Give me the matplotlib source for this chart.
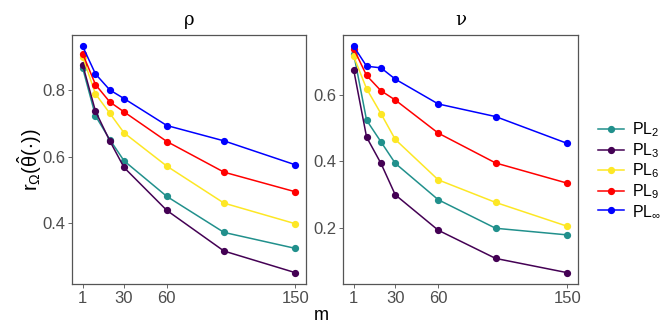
import numpy as np
import matplotlib
matplotlib.use("Agg")
import matplotlib.pyplot as plt

# Werte
m = [1, 10, 20, 30, 60, 100, 150]
series = ["PL2", "PL3", "PL6", "PL9", "PLinf"]
labels = [r"PL$_2$", r"PL$_3$", r"PL$_6$", r"PL$_9$", r"PL$_\infty$"]
colors = ["#21908C", "#440154", "#FDE725", "#FF0000", "#0000FF"]

rho_pl2 = [0.866, 0.722, 0.651, 0.587, 0.480, 0.372, 0.324]
rho_pl3 = [0.876, 0.736, 0.647, 0.567, 0.438, 0.316, 0.251]
rho_pl6 = [0.900, 0.788, 0.730, 0.671, 0.571, 0.460, 0.398]
rho_pl9 = [0.909, 0.816, 0.764, 0.734, 0.645, 0.553, 0.494]
rho_plinf = [0.931, 0.848, 0.800, 0.774, 0.693, 0.647, 0.575]

nu_pl2 = [0.725, 0.524, 0.459, 0.394, 0.284, 0.198, 0.178]
nu_pl3 = [0.676, 0.473, 0.394, 0.299, 0.192, 0.107, 0.064]
nu_pl6 = [0.717, 0.619, 0.544, 0.466, 0.344, 0.276, 0.204]
nu_pl9 = [0.740, 0.659, 0.613, 0.585, 0.485, 0.395, 0.334]
nu_plinf = [0.747, 0.687, 0.682, 0.648, 0.573, 0.535, 0.454]

panels = [
    ("ρ", [rho_pl2, rho_pl3, rho_pl6, rho_pl9, rho_plinf], [0.4, 0.6, 0.8]),
    ("ν", [nu_pl2, nu_pl3, nu_pl6, nu_pl9, nu_plinf], [0.2, 0.4, 0.6]),
]

plt.rcParams["font.family"] = ["Liberation Sans", "DejaVu Sans"]
plt.rcParams["mathtext.fontset"] = "dejavusans"
plt.rcParams["mathtext.default"] = "regular"

W, H = 664, 332
fig = plt.figure(figsize=(W / 100, H / 100), dpi=100)
boxes = [(72, 35, 306, 284), (343, 35, 578, 284)]

handles = []
for (title, data, yticks), (x0, y0, x1, y1) in zip(panels, boxes):
    ax = fig.add_axes([x0 / W, (H - y1) / H, (x1 - x0) / W, (y1 - y0) / H])
    handles = []
    for vals, col, lab in zip(data, colors, labels):
        h, = ax.plot(m, vals, color=col, lw=1.1, marker="o", ms=4.2, label=lab)
        handles.append(h)
    allv = np.concatenate([np.array(v) for v in data])
    lo, hi = allv.min(), allv.max()
    pad = (hi - lo) * 0.05
    ax.set_ylim(lo - pad, hi + pad)
    ax.set_xlim(1 - 149 * 0.05, 150 + 149 * 0.05)
    ax.set_xticks([1, 30, 60, 150])
    ax.set_yticks(yticks)
    ax.set_yticklabels([f"{t:.1f}" for t in yticks])
    ax.tick_params(colors="#4D4D4D", labelsize=12, length=3, width=0.6,
                   labelcolor="#4D4D4D", pad=2)
    for s in ax.spines.values():
        s.set_color("#555555")
        s.set_linewidth(0.9)
    ax.set_title(title, fontsize=13, pad=7, family="DejaVu Serif")

fig.text(30 / W, 1 - 160 / H, r"$r_{\Omega}(\hat{\theta}(\cdot))$", rotation=90,
         ha="center", va="center", fontsize=14.5)
fig.text(321 / W, 1 - 316 / H, "m", ha="center", va="center", fontsize=13)

fig.legend(handles=handles, labels=labels, loc="center left",
           bbox_to_anchor=(592 / W, 1 - 170 / H), frameon=False,
           fontsize=11.5, handlelength=1.6, handletextpad=0.5, labelspacing=0.12,
           borderaxespad=0)

fig.savefig("out.png", dpi=100)
